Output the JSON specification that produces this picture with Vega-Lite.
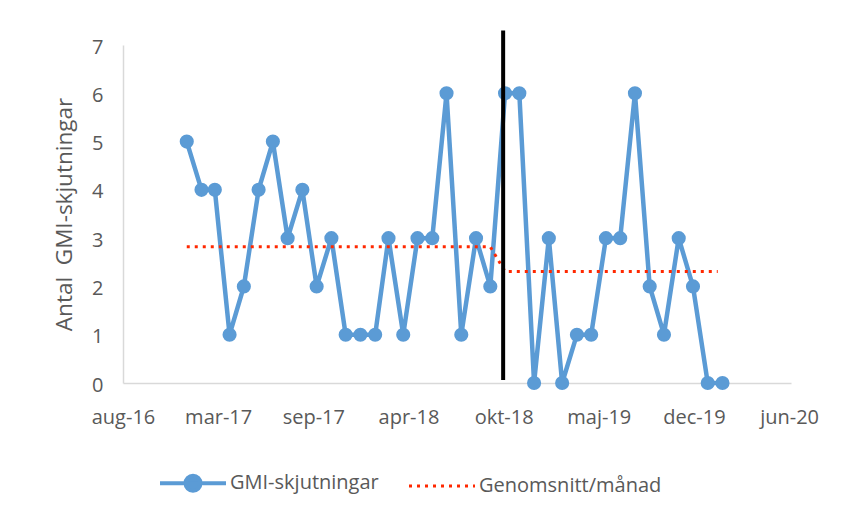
{
  "$schema": "https://vega.github.io/schema/vega-lite/v6.json",
  "width": 668,
  "height": 338,
  "padding": {"left": 53, "top": 28, "right": 5, "bottom": 5},
  "background": "white",
  "config": {
    "font": "Open Sans",
    "view": {"stroke": null},
    "axis": {
      "labelColor": "#595959",
      "titleColor": "#595959",
      "grid": false,
      "ticks": false,
      "domainColor": "#D9D9D9",
      "domainWidth": 1.5,
      "labelFontSize": 20
    }
  },
  "datasets": {
    "gmi": [
      {"date": "2017-01-01", "count": 5}, {"date": "2017-02-01", "count": 4}, {"date": "2017-03-01", "count": 4},
      {"date": "2017-04-01", "count": 1}, {"date": "2017-05-01", "count": 2}, {"date": "2017-06-01", "count": 4},
      {"date": "2017-07-01", "count": 5}, {"date": "2017-08-01", "count": 3}, {"date": "2017-09-01", "count": 4},
      {"date": "2017-10-01", "count": 2}, {"date": "2017-11-01", "count": 3}, {"date": "2017-12-01", "count": 1},
      {"date": "2018-01-01", "count": 1}, {"date": "2018-02-01", "count": 1}, {"date": "2018-03-01", "count": 3},
      {"date": "2018-04-01", "count": 1}, {"date": "2018-05-01", "count": 3}, {"date": "2018-06-01", "count": 3},
      {"date": "2018-07-01", "count": 6}, {"date": "2018-08-01", "count": 1}, {"date": "2018-09-01", "count": 3},
      {"date": "2018-10-01", "count": 2}, {"date": "2018-11-01", "count": 6}, {"date": "2018-12-01", "count": 6},
      {"date": "2019-01-01", "count": 0}, {"date": "2019-02-01", "count": 3}, {"date": "2019-03-01", "count": 0},
      {"date": "2019-04-01", "count": 1}, {"date": "2019-05-01", "count": 1}, {"date": "2019-06-01", "count": 3},
      {"date": "2019-07-01", "count": 3}, {"date": "2019-08-01", "count": 6}, {"date": "2019-09-01", "count": 2},
      {"date": "2019-10-01", "count": 1}, {"date": "2019-11-01", "count": 3}, {"date": "2019-12-01", "count": 2},
      {"date": "2020-01-01", "count": 0}, {"date": "2020-02-01", "count": 0}
    ],
    "avg": [
      {"date": "2017-01-01", "avg": 2.82},
      {"date": "2018-10-01", "avg": 2.82},
      {"date": "2018-11-01", "avg": 2.31},
      {"date": "2020-01-22", "avg": 2.31}
    ],
    "cut": [
      {"date": "2018-10-28", "y0": 0.06, "y1": 7.3}
    ]
  },
  "layer": [
    {
      "data": {"name": "gmi"},
      "mark": {"type": "line", "strokeWidth": 4.5, "point": {"filled": true, "size": 200, "opacity": 1}},
      "encoding": {
        "x": {
          "field": "date", "type": "temporal",
          "scale": {"domain": [{"year": 2016, "month": 8, "date": 20, "utc": true}, {"year": 2020, "month": 6, "date": 24, "utc": true}]},
          "axis": {
            "title": null,
            "labelPadding": 24,
            "labelOverlap": false,
            "labelFlush": false,
            "values": [
              {"year": 2016, "month": 8, "date": 20, "utc": true},
              {"year": 2017, "month": 3, "date": 8, "utc": true},
              {"year": 2017, "month": 9, "date": 24, "utc": true},
              {"year": 2018, "month": 4, "date": 12, "utc": true},
              {"year": 2018, "month": 10, "date": 29, "utc": true},
              {"year": 2019, "month": 5, "date": 17, "utc": true},
              {"year": 2019, "month": 12, "date": 3, "utc": true},
              {"year": 2020, "month": 6, "date": 20, "utc": true}
            ],
            "labelExpr": "['jan','feb','mar','apr','maj','jun','jul','aug','sep','okt','nov','dec'][utcmonth(datum.value)] + '-' + utcFormat(datum.value, '%y')"
          }
        },
        "y": {
          "field": "count", "type": "quantitative",
          "scale": {"domain": [0, 7], "nice": false},
          "axis": {
            "title": "Antal\u00a0 GMI-skjutningar",
            "titleFontSize": 22.5,
            "titleFontWeight": "normal",
            "titlePadding": 15,
            "labelPadding": 20,
            "labelOffset": 2,
            "values": [0, 1, 2, 3, 4, 5, 6, 7]
          }
        },
        "color": {
          "datum": "GMI-skjutningar",
          "scale": {"domain": ["GMI-skjutningar", "Genomsnitt/månad"], "range": ["#5B9BD5", "#FF2800"]},
          "legend": {
            "orient": "none",
            "legendX": 60,
            "legendY": 428,
            "direction": "horizontal",
            "title": null,
            "labelFontSize": 20,
            "labelLimit": 400,
            "labelColor": "#595959",
            "symbolSize": 4356,
            "symbolType": "M-1,0H1",
            "labelOffset": 27,
            "columnPadding": 24,
            "encode": {
              "symbols": {
                "update": {
                  "shape": {"signal": "datum.value === 'GMI-skjutningar' ? 'M-1,0H1M-0.227,0A0.227,0.227 0 1,1 0.227,0A0.227,0.227 0 1,1 -0.227,0Z' : 'M-1,0H1'"},
                  "strokeDash": {"signal": "datum.value === 'GMI-skjutningar' ? [] : [3,5]"},
                  "strokeWidth": {"signal": "datum.value === 'GMI-skjutningar' ? 4 : 3"},
                  "fill": {"signal": "datum.value === 'GMI-skjutningar' ? '#5B9BD5' : 'transparent'"},
                  "stroke": {"signal": "datum.value === 'GMI-skjutningar' ? '#5B9BD5' : '#FF2800'"},
                  "opacity": {"value": 1}
                }
              }
            }
          }
        }
      }
    },
    {
      "data": {"name": "avg"},
      "mark": {"type": "line", "strokeWidth": 3, "strokeDash": [3, 5]},
      "encoding": {
        "x": {"field": "date", "type": "temporal"},
        "y": {"field": "avg", "type": "quantitative"},
        "color": {"datum": "Genomsnitt/månad"}
      }
    },
    {
      "data": {"name": "cut"},
      "mark": {"type": "rule", "color": "black", "strokeWidth": 4},
      "encoding": {
        "x": {"field": "date", "type": "temporal"},
        "y": {"field": "y0", "type": "quantitative"},
        "y2": {"field": "y1"}
      }
    }
  ]
}
